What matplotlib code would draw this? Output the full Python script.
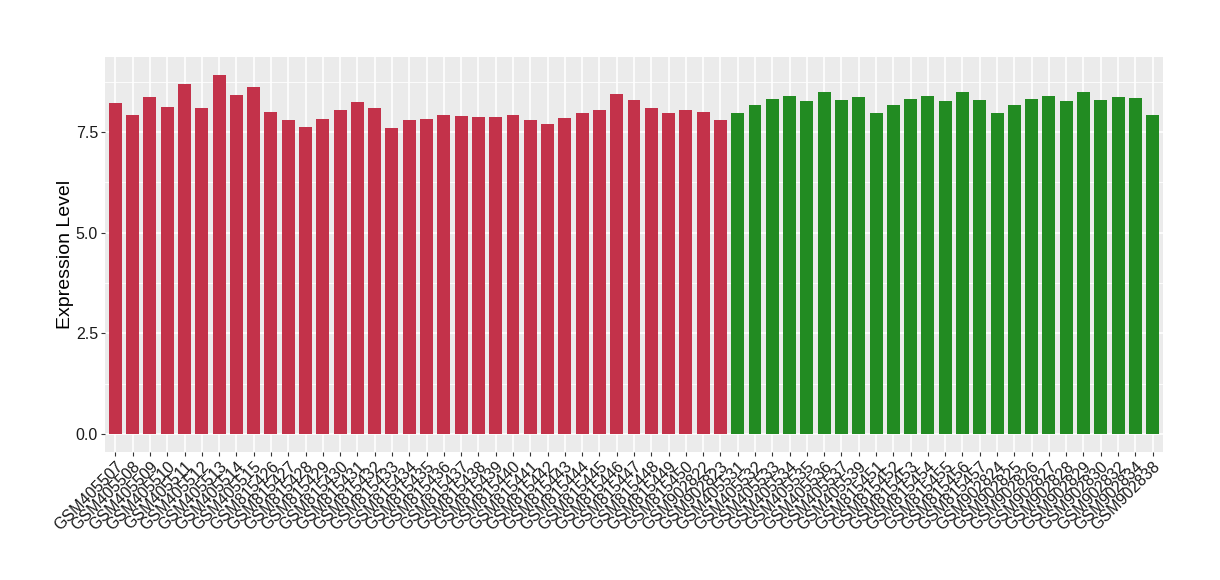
import matplotlib
matplotlib.use("Agg")
import matplotlib.pyplot as plt
import numpy as np

plt.rcParams["font.family"] = ["Liberation Sans", "DejaVu Sans"]

# ---- data ------------------------------------------------------------------
samples_a = ["GSM405507", "GSM405508", "GSM405509", "GSM405510", "GSM405511",
             "GSM405512", "GSM405513", "GSM405514", "GSM405515",
             "GSM815426", "GSM815427", "GSM815428", "GSM815429", "GSM815430",
             "GSM815431", "GSM815432", "GSM815433", "GSM815434", "GSM815435",
             "GSM815436", "GSM815437", "GSM815438", "GSM815439", "GSM815440",
             "GSM815441", "GSM815442", "GSM815443", "GSM815444", "GSM815445",
             "GSM815446", "GSM815447", "GSM815448", "GSM815449", "GSM815450",
             "GSM902822", "GSM902823"]
values_a = [8.22, 7.92, 8.37, 8.12, 8.69, 8.09, 8.92, 8.42, 8.62,
            7.99, 7.79, 7.62, 7.82, 8.04, 8.24, 8.09, 7.59, 7.79, 7.82,
            7.92, 7.89, 7.87, 7.87, 7.92, 7.79, 7.69, 7.84, 7.97, 8.04,
            8.44, 8.29, 8.09, 7.97, 8.04, 7.99, 7.79]

samples_b = ["GSM405531", "GSM405532", "GSM405533", "GSM405534", "GSM405535",
             "GSM405536", "GSM405537", "GSM405539",
             "GSM815451", "GSM815452", "GSM815453", "GSM815454", "GSM815455",
             "GSM815456", "GSM815457",
             "GSM902824", "GSM902825", "GSM902826", "GSM902827", "GSM902828",
             "GSM902829", "GSM902830", "GSM902832", "GSM902834", "GSM902838"]
values_b = [7.97, 8.17, 8.32, 8.39, 8.27, 8.49, 8.29, 8.37,
            7.97, 8.17, 8.32, 8.39, 8.27, 8.49, 8.29,
            7.97, 8.17, 8.32, 8.39, 8.27, 8.49, 8.29, 8.37, 8.34, 7.92]

color_a = "#C3324A"
color_b = "#228B22"

# ---- plot ------------------------------------------------------------------
labels = samples_a + samples_b
values = values_a + values_b
colors = [color_a] * len(samples_a) + [color_b] * len(samples_b)
x = np.arange(len(labels))

fig = plt.figure(figsize=(12.2, 5.8), dpi=100)
ax = fig.add_axes([105 / 1220, 1 - 452 / 580, 1058 / 1220, 395 / 580])
ax.set_facecolor("#EBEBEB")

ymax = max(values)
ax.set_ylim(-0.05 * ymax, ymax * 1.05)
ax.set_xlim(-0.6, len(labels) - 1 + 0.6)

# grid (ggplot grey theme)
for yv in [1.25, 3.75, 6.25, 8.75]:
    ax.axhline(yv, color="white", lw=0.6, zorder=0)
for yv in [0, 2.5, 5.0, 7.5]:
    ax.axhline(yv, color="white", lw=1.2, zorder=0)
for xv in x:
    ax.axvline(xv, color="white", lw=1.2, zorder=0)

ax.bar(x, values, width=0.75, color=colors, zorder=2)

ax.set_yticks([0, 2.5, 5.0, 7.5])
ax.set_yticklabels(["0.0", "2.5", "5.0", "7.5"], fontsize=11.5, color="#1A1A1A")
ax.set_xticks(x)
ax.set_xticklabels(labels, rotation=45, ha="right", rotation_mode="anchor",
                   fontsize=11.5, color="#1A1A1A")
ax.tick_params(axis="both", length=3, width=0.8, color="#333333", pad=2)
ax.set_ylabel("Expression Level", fontsize=14, labelpad=1)

for s in ax.spines.values():
    s.set_visible(False)

fig.savefig("out.png", dpi=100)
